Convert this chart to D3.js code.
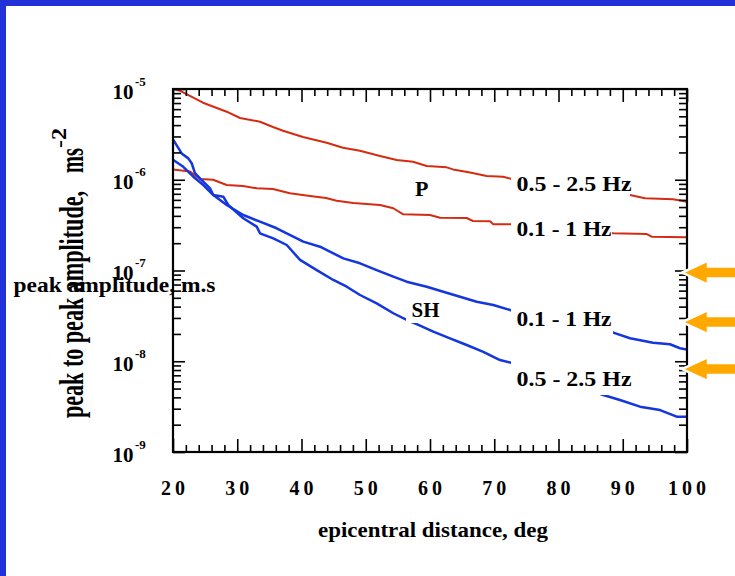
<!DOCTYPE html>
<html>
<head>
<meta charset="utf-8">
<script src="https://cdn.jsdelivr.net/npm/d3@7/dist/d3.min.js"></script>
<style>
  html, body { margin: 0; padding: 0; background: #fff; }
  svg { display: block; }
  text { font-family: "Liberation Serif", "Times New Roman", serif; font-weight: bold; fill: #000; }
</style>
</head>
<body>
<svg id="chart" width="735" height="576"></svg>
<script>
// Peak amplitude vs epicentral distance, P and SH phases in two frequency bands.
// Each series: [distance (deg), amplitude (m/s^2)]
const pHighBand = [
  [20, 1.0e-5], [21.2, 9.5e-6], [24.67, 7.06e-6], [28.36, 5.62e-6], [30.43, 4.79e-6],
  [33.54, 4.36e-6], [35.56, 3.81e-6], [37.12, 3.47e-6], [40.23, 2.96e-6], [43.92, 2.56e-6],
  [46.46, 2.25e-6], [49.1, 2.09e-6], [52.22, 1.83e-6], [54.82, 1.65e-6], [57.35, 1.58e-6],
  [59.49, 1.42e-6], [62.6, 1.37e-6], [63.58, 1.30e-6], [66.23, 1.20e-6], [68.82, 1.10e-6],
  [71.36, 1.08e-6], [72.72, 1.02e-6], [91.13, 6.79e-7], [93.46, 6.25e-7], [97.82, 6.09e-7],
  [100, 5.73e-7]
];
const pLowBand = [
  [20, 1.30e-6], [22.65, 1.23e-6], [24.2, 1.02e-6], [26.23, 1.00e-6], [28.36, 8.75e-7],
  [30.9, 8.53e-7], [33.03, 8.05e-7], [35.56, 7.91e-7], [38.21, 7.09e-7], [41.32, 6.62e-7],
  [43.81, 6.29e-7], [45.48, 5.88e-7], [48.06, 5.55e-7], [52.22, 5.27e-7], [54.29, 4.85e-7],
  [55.84, 4.16e-7], [60, 4.09e-7], [61.56, 3.82e-7], [65.71, 3.79e-7], [66.69, 3.51e-7],
  [69.34, 3.48e-7], [69.85, 3.23e-7], [72.72, 3.23e-7], [88.53, 2.57e-7], [93.73, 2.52e-7],
  [94.5, 2.36e-7], [100, 2.32e-7]
];
const shLowBand = [
  [20.05, 1.65e-6], [21.6, 1.39e-6], [23.16, 1.08e-6], [24.72, 8.75e-7], [26.27, 6.79e-7],
  [28.36, 5.27e-7], [30.94, 4.09e-7], [33.54, 3.45e-7], [36.14, 2.92e-7], [37.7, 2.57e-7],
  [40.28, 2.08e-7], [42.88, 1.83e-7], [46.51, 1.36e-7], [49.11, 1.20e-7], [51.7, 1.01e-7],
  [54.29, 8.55e-8], [56.37, 7.53e-8], [59.49, 6.63e-8], [62.07, 5.84e-8], [64.67, 5.14e-8],
  [67.27, 4.53e-8], [69.85, 4.17e-8], [72.97, 3.58e-8], [88.53, 2.07e-8], [91.13, 1.79e-8],
  [94.71, 1.60e-8], [97.35, 1.54e-8], [98.91, 1.39e-8], [99.95, 1.35e-8]
];
const shHighBand = [
  [20.05, 2.74e-6], [21.35, 1.95e-6], [22.38, 1.72e-6], [22.91, 1.52e-6], [23.42, 1.18e-6],
  [24.47, 9.93e-7], [25.76, 8.05e-7], [26.27, 6.79e-7], [27.83, 6.50e-7], [28.6, 5.27e-7],
  [30.94, 3.76e-7], [33.03, 3.04e-7], [33.54, 2.57e-7], [35.61, 2.26e-7], [37.7, 1.91e-7],
  [39.77, 1.31e-7], [42.37, 1.01e-7], [44.95, 7.86e-8], [47.04, 6.63e-8], [49.11, 5.37e-8],
  [51.7, 4.35e-8], [54.29, 3.38e-8], [56.37, 2.85e-8], [57.93, 2.57e-8], [60.51, 2.12e-8],
  [63.11, 1.79e-8], [65.71, 1.51e-8], [68.3, 1.27e-8], [70.89, 1.03e-8], [72.97, 9.49e-9],
  [86.97, 4.25e-9], [89.57, 3.74e-9], [92.68, 3.16e-9], [95.8, 2.90e-9], [98.4, 2.45e-9],
  [99.95, 2.45e-9]
];

const xMajorTicks = [20, 30, 40, 50, 60, 70, 80, 90, 100];
const xMinorTicks = [22, 24, 26, 28, 32, 34, 36, 38, 42, 44, 46, 48, 52, 54, 56, 58,
                     62, 64, 66, 68, 72, 74, 76, 78, 82, 84, 86, 88, 92, 94, 96, 98];
const yExponents = [-9, -8, -7, -6, -5];
const yMinorMultipliers = [2, 3, 4, 5, 6, 7, 8, 9];

const bandLabels = ["0.5 - 2.5 Hz", "0.1 - 1 Hz", "0.1 - 1 Hz", "0.5 - 2.5 Hz"];
const phaseLabels = ["P", "SH"];
const arrowLevels = [9.5e-8, 2.7e-8, 8.2e-9];

const svg = d3.select("#chart");
const plot = { left: 173, right: 687, top: 89, bottom: 452 };

const x = d3.scaleLinear().domain([20, 100]).range([plot.left, plot.right]);
const y = d3.scaleLog().domain([1e-9, 1e-5]).range([plot.bottom, plot.top]);

// page frame: blue bands along the top and left edges
svg.append("rect").attr("x", 0).attr("y", 0).attr("width", 735).attr("height", 6).attr("fill", "#2230d8");
svg.append("rect").attr("x", 0).attr("y", 0).attr("width", 6).attr("height", 576).attr("fill", "#2230d8");

// curves
svg.append("clipPath").attr("id", "plotClip")
  .append("rect").attr("x", plot.left).attr("y", plot.top - 2)
  .attr("width", plot.right - plot.left).attr("height", plot.bottom - plot.top + 2);

const line = d3.line().x(d => x(d[0])).y(d => y(d[1]));
const curves = [
  { data: pHighBand, color: "#d42c12", width: 2 },
  { data: pLowBand, color: "#d42c12", width: 2 },
  { data: shLowBand, color: "#1436de", width: 2.5 },
  { data: shHighBand, color: "#1436de", width: 2.5 }
];
const gCurves = svg.append("g").attr("clip-path", "url(#plotClip)");
curves.forEach(c => {
  gCurves.append("path").attr("d", line(c.data))
    .attr("fill", "none").attr("stroke", c.color)
    .attr("stroke-width", c.width).attr("stroke-linejoin", "round");
});

// axes: major and minor ticks pointing inward on all four sides
function styleAxis(g) {
  g.select(".domain").remove();
  g.selectAll(".tick line").attr("stroke", "#000").attr("stroke-width", 1.6);
  g.selectAll(".tick text").remove();
}
const yMinorTicks = [];
yExponents.slice(0, -1).forEach(e => yMinorMultipliers.forEach(k => yMinorTicks.push(k * Math.pow(10, e))));
const yMajorTicks = yExponents.map(e => Math.pow(10, e));

svg.append("g").attr("transform", `translate(0,${plot.bottom})`)
  .call(d3.axisBottom(x).tickValues(xMajorTicks).tickSize(-13).tickSizeOuter(0)).call(styleAxis);
svg.append("g").attr("transform", `translate(0,${plot.bottom})`)
  .call(d3.axisBottom(x).tickValues(xMinorTicks).tickSize(-7).tickSizeOuter(0)).call(styleAxis);
svg.append("g").attr("transform", `translate(0,${plot.top})`)
  .call(d3.axisTop(x).tickValues(xMajorTicks).tickSize(-13).tickSizeOuter(0)).call(styleAxis);
svg.append("g").attr("transform", `translate(0,${plot.top})`)
  .call(d3.axisTop(x).tickValues(xMinorTicks).tickSize(-7).tickSizeOuter(0)).call(styleAxis);
svg.append("g").attr("transform", `translate(${plot.left},0)`)
  .call(d3.axisLeft(y).tickValues(yMajorTicks).tickSize(-12).tickSizeOuter(0)).call(styleAxis);
svg.append("g").attr("transform", `translate(${plot.left},0)`)
  .call(d3.axisLeft(y).tickValues(yMinorTicks).tickSize(-8).tickSizeOuter(0)).call(styleAxis);
svg.append("g").attr("transform", `translate(${plot.right},0)`)
  .call(d3.axisRight(y).tickValues(yMajorTicks).tickSize(-12).tickSizeOuter(0)).call(styleAxis);
svg.append("g").attr("transform", `translate(${plot.right},0)`)
  .call(d3.axisRight(y).tickValues(yMinorTicks).tickSize(-8).tickSizeOuter(0)).call(styleAxis);

svg.append("rect").attr("x", plot.left).attr("y", plot.top)
  .attr("width", plot.right - plot.left).attr("height", plot.bottom - plot.top)
  .attr("fill", "none").attr("stroke", "#000").attr("stroke-width", 2.2);

// x tick labels
svg.append("g").selectAll("text").data(xMajorTicks).join("text")
  .attr("x", d => x(d) + 2).attr("y", 495)
  .attr("text-anchor", "middle").attr("font-size", 20).attr("letter-spacing", 4)
  .text(d => d);

// y tick labels: 10 with superscript exponent
const yLab = svg.append("g").selectAll("g").data(yExponents).join("g");
yLab.append("text")
  .attr("x", 133.5).attr("y", d => y(Math.pow(10, d)) + 9.5)
  .attr("text-anchor", "end").attr("font-size", 21).text("10");
yLab.append("text")
  .attr("x", 135).attr("y", d => y(Math.pow(10, d)) - 3.5)
  .attr("font-size", 13).text(d => "-" + Math.abs(d));

// axis titles
svg.append("text").attr("x", 433).attr("y", 537).attr("text-anchor", "middle")
  .attr("font-size", 22).attr("textLength", 230).attr("lengthAdjust", "spacingAndGlyphs")
  .text("epicentral distance, deg");

const yTitle = svg.append("g").attr("transform", "translate(83,418) rotate(-90)");
yTitle.append("text").attr("x", 0).attr("y", 0).attr("font-size", 33)
  .attr("textLength", 227).attr("lengthAdjust", "spacingAndGlyphs")
  .text("peak to peak amplitude,");
yTitle.append("text").attr("x", 245).attr("y", 0).attr("font-size", 33)
  .attr("textLength", 25).attr("lengthAdjust", "spacingAndGlyphs")
  .text("ms");
yTitle.append("text").attr("x", 270).attr("y", -17).attr("font-size", 20)
  .attr("textLength", 20).attr("lengthAdjust", "spacingAndGlyphs")
  .text("-2");

svg.append("text").attr("x", 13.5).attr("y", 291.5).attr("font-size", 21)
  .attr("textLength", 202).attr("lengthAdjust", "spacingAndGlyphs")
  .text("peak amplitude, m.s");

// curve labels on white boxes
const labelSpecs = [
  { text: bandLabels[0], x: 516.5, y: 190.7, len: 115, boxW: 118 },
  { text: bandLabels[1], x: 516.5, y: 236, len: 95, boxW: 100 },
  { text: bandLabels[2], x: 516.5, y: 325.7, len: 95, boxW: 101 },
  { text: bandLabels[3], x: 516.5, y: 386, len: 115, boxW: 120 }
];
labelSpecs.forEach(s => {
  svg.append("rect").attr("x", 511).attr("y", s.y - 25)
    .attr("width", s.boxW + 1).attr("height", 34).attr("fill", "#fff");
  svg.append("text").attr("x", s.x).attr("y", s.y).attr("font-size", 20)
    .attr("textLength", s.len).attr("lengthAdjust", "spacingAndGlyphs").text(s.text);
});

svg.append("text").attr("x", 415).attr("y", 196).attr("font-size", 22).text(phaseLabels[0]);
svg.append("rect").attr("x", 406).attr("y", 296).attr("width", 37).attr("height", 27).attr("fill", "#fff");
svg.append("text").attr("x", 411.5).attr("y", 316.7).attr("font-size", 21)
  .attr("textLength", 28).attr("lengthAdjust", "spacingAndGlyphs").text(phaseLabels[1]);

// orange arrows pointing at the right axis
const arrow = cy => {
  const tip = plot.right - 5;
  return `M${tip},${cy} L${tip + 26},${cy - 12} L${tip + 26},${cy - 6} L745,${cy - 6} ` +
         `L745,${cy + 6} L${tip + 26},${cy + 6} L${tip + 26},${cy + 12} Z`;
};
svg.append("g").selectAll("path").data(arrowLevels).join("path")
  .attr("d", d => arrow(y(d)))
  .attr("fill", "#ffa800").attr("stroke", "#fff").attr("stroke-width", 2.5)
  .attr("stroke-linejoin", "miter");
</script>
</body>
</html>
